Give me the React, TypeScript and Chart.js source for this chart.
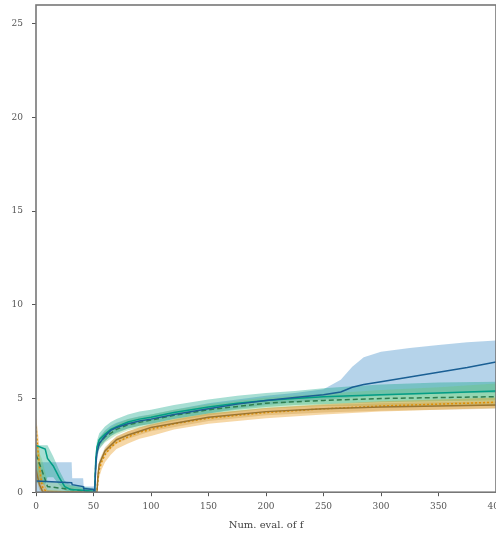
import React, { useEffect, useRef } from "react";
import { Chart, registerables } from "chart.js";

Chart.register(...registerables);

const X_TICK_STEP = 50;
const Y_TICK_STEP = 5;
const X_MAX = 400;
const Y_MAX = 26;
const Y_TICKS = [0, 5, 10, 15, 20, 25];
const X_TITLE = "Num. eval. of f";

// Series 1: blue (solid)
const BLUE_X = [0, 31, 31.5, 41, 41.5, 50, 51, 52, 53, 55, 60, 65, 70, 80, 90, 100, 120, 150, 175, 200, 225, 250, 265, 275, 285, 300, 325, 350, 375, 400];
const BLUE_MEAN = [0.6, 0.5, 0.4, 0.3, 0.2, 0.15, 0, 1.4, 2.1, 2.6, 3.0, 3.3, 3.45, 3.65, 3.8, 3.9, 4.15, 4.45, 4.7, 4.9, 5.05, 5.2, 5.35, 5.6, 5.75, 5.9, 6.15, 6.4, 6.65, 6.95];
const BLUE_HI = [1.6, 1.6, 0.75, 0.75, 0.3, 0.3, 0.4, 1.8, 2.5, 2.9, 3.3, 3.55, 3.7, 3.9, 4.05, 4.15, 4.4, 4.75, 4.95, 5.15, 5.3, 5.5, 6.0, 6.7, 7.2, 7.5, 7.7, 7.85, 8.0, 8.1];
const BLUE_LO = [0, 0, 0, 0, 0, 0, 0, 1.0, 1.8, 2.3, 2.7, 3.0, 3.2, 3.4, 3.55, 3.65, 3.9, 4.2, 4.45, 4.65, 4.8, 4.95, 5.0, 5.05, 5.1, 5.15, 5.2, 5.25, 5.3, 5.3];

// Series 2: teal (solid)
const TEAL_X = [0, 8, 10, 15, 20, 25, 30, 40, 50, 51, 52, 53, 55, 60, 65, 70, 80, 90, 100, 120, 150, 175, 200, 225, 250, 275, 300, 350, 400];
const TEAL_MEAN = [2.5, 2.3, 1.8, 1.4, 0.8, 0.3, 0.15, 0.1, 0.05, 0, 1.8, 2.4, 2.8, 3.1, 3.35, 3.5, 3.75, 3.9, 4.0, 4.25, 4.55, 4.75, 4.9, 5.0, 5.1, 5.15, 5.2, 5.3, 5.4];
const TEAL_HI = [2.5, 2.5, 2.5, 1.9, 1.2, 0.6, 0.4, 0.3, 0.2, 0.2, 2.1, 2.75, 3.15, 3.5, 3.75, 3.9, 4.15, 4.3, 4.4, 4.65, 4.95, 5.15, 5.3, 5.4, 5.55, 5.65, 5.75, 5.85, 5.9];
const TEAL_LO = [0.5, 0.4, 0.8, 0.8, 0.4, 0.1, 0, 0, 0, 0, 1.4, 2.05, 2.45, 2.75, 3.0, 3.15, 3.4, 3.55, 3.65, 3.9, 4.2, 4.4, 4.55, 4.65, 4.7, 4.75, 4.8, 4.85, 4.9];

// Series 3: green (dashed)
const GREEN_X = [0, 5, 10, 50, 51, 52, 53, 55, 60, 70, 80, 100, 120, 150, 200, 250, 300, 350, 400];
const GREEN_MEAN = [2.0, 1.2, 0.3, 0, 0, 1.6, 2.2, 2.6, 2.95, 3.35, 3.6, 3.85, 4.1, 4.4, 4.75, 4.9, 5.0, 5.05, 5.1];
const GREEN_HI = [2.5, 1.8, 0.6, 0.1, 0.1, 1.9, 2.5, 2.9, 3.25, 3.65, 3.9, 4.15, 4.4, 4.7, 5.05, 5.25, 5.45, 5.6, 5.8];
const GREEN_LO = [1.2, 0.6, 0, 0, 0, 1.3, 1.9, 2.3, 2.65, 3.05, 3.3, 3.55, 3.8, 4.1, 4.45, 4.6, 4.6, 4.6, 4.6];

// Series 4: orange (dotted)
const ORANGE_X = [0, 2, 4, 6, 10, 50, 53, 54, 55, 57, 60, 65, 70, 80, 90, 100, 120, 150, 175, 200, 250, 300, 350, 400];
const ORANGE_MEAN = [3.5, 2.0, 0.8, 0.2, 0, 0, 0, 0.8, 1.2, 1.6, 2.0, 2.4, 2.65, 2.95, 3.2, 3.35, 3.65, 3.95, 4.1, 4.25, 4.45, 4.6, 4.7, 4.8];
const ORANGE_HI = [4.1, 3.0, 1.5, 0.6, 0.1, 0, 0, 1.1, 1.5, 1.9, 2.3, 2.7, 2.95, 3.25, 3.45, 3.6, 3.9, 4.2, 4.35, 4.5, 4.7, 4.85, 4.95, 5.05];
const ORANGE_LO = [2.5, 1.0, 0.2, 0, 0, 0, 0, 0.4, 0.8, 1.2, 1.6, 2.0, 2.3, 2.6, 2.85, 3.0, 3.35, 3.65, 3.8, 3.95, 4.15, 4.3, 4.4, 4.5];

// Series 5: brown (solid)
const BROWN_X = [0, 3, 6, 53, 54, 55, 60, 70, 80, 100, 150, 200, 250, 300, 400];
const BROWN_MEAN = [1.2, 0.4, 0, 0, 1.0, 1.5, 2.2, 2.8, 3.05, 3.45, 4.0, 4.3, 4.45, 4.55, 4.65];
const BROWN_HI = [1.6, 0.7, 0.1, 0, 1.2, 1.7, 2.4, 3.0, 3.25, 3.65, 4.2, 4.5, 4.65, 4.75, 4.85];
const BROWN_LO = [0.8, 0.1, 0, 0, 0.8, 1.3, 2.0, 2.6, 2.85, 3.25, 3.8, 4.1, 4.25, 4.35, 4.45];

type Series = {
  x: number[];
  mean: number[];
  hi: number[];
  lo: number[];
  line: string;
  band: string;
  dash: number[];
};

const SERIES: Series[] = [
  { x: ORANGE_X, mean: ORANGE_MEAN, hi: ORANGE_HI, lo: ORANGE_LO, line: "#de8f05", band: "rgba(232,150,20,0.38)", dash: [2, 2] },
  { x: BROWN_X, mean: BROWN_MEAN, hi: BROWN_HI, lo: BROWN_LO, line: "#9a7530", band: "rgba(170,130,50,0.3)", dash: [] },
  { x: GREEN_X, mean: GREEN_MEAN, hi: GREEN_HI, lo: GREEN_LO, line: "#2f7d4f", band: "rgba(110,195,110,0.32)", dash: [5, 3] },
  { x: TEAL_X, mean: TEAL_MEAN, hi: TEAL_HI, lo: TEAL_LO, line: "#029e85", band: "rgba(2,160,130,0.35)", dash: [] },
  { x: BLUE_X, mean: BLUE_MEAN, hi: BLUE_HI, lo: BLUE_LO, line: "#1a5f94", band: "rgba(60,140,200,0.38)", dash: [] },
];

const pts = (xs: number[], ys: number[]) => xs.map((x, i) => ({ x, y: ys[i] }));

const framePlugin = {
  id: "frame",
  afterDatasetsDraw(chart: any) {
    const { ctx, chartArea } = chart;
    ctx.save();
    ctx.strokeStyle = "#777";
    ctx.lineWidth = 1.6;
    ctx.strokeRect(chartArea.left, chartArea.top, chartArea.right - chartArea.left, chartArea.bottom - chartArea.top);
    ctx.restore();
  },
};

export default function App() {
  const ref = useRef<HTMLCanvasElement>(null);
  useEffect(() => {
    document.body.style.margin = "0";
    document.body.style.overflow = "hidden";
    const datasets: any[] = [];
    SERIES.forEach((s, k) => {
      const loIdx = datasets.length;
      datasets.push({
        data: pts(s.x, s.lo),
        borderWidth: 0,
        pointRadius: 0,
        fill: false,
        order: 100 + k,
      });
      datasets.push({
        data: pts(s.x, s.hi),
        borderWidth: 0,
        pointRadius: 0,
        backgroundColor: s.band,
        fill: { target: loIdx },
        order: 100 + k,
      });
    });
    SERIES.forEach((s, k) => {
      datasets.push({
        data: pts(s.x, s.mean),
        borderColor: s.line,
        borderWidth: 1.5,
        borderDash: s.dash,
        pointRadius: 0,
        fill: false,
        order: 50 - k,
      });
    });
    const tickFont = { family: "'DejaVu Serif', serif", size: 9 };
    const chart = new Chart(ref.current!, {
      type: "line",
      data: { datasets },
      plugins: [framePlugin],
      options: {
        animation: false,
        responsive: false,
        layout: { padding: { top: 5, left: 0, right: 0, bottom: 7 } },
        plugins: { legend: { display: false }, tooltip: { enabled: false } },
        scales: {
          x: {
            type: "linear",
            min: 0,
            max: X_MAX,
            ticks: { stepSize: X_TICK_STEP, color: "#555", font: tickFont, padding: 5, maxRotation: 0 },
            grid: { display: true, drawOnChartArea: false, tickLength: 4, color: "#555" },
            border: { display: false },
            title: { display: true, text: X_TITLE, color: "#444", font: { family: "'DejaVu Serif', serif", size: 10 }, padding: { top: 2, bottom: 0 } },
            afterFit: (s: any) => {
              s.paddingRight = 0;
            },
          },
          y: {
            type: "linear",
            min: 0,
            max: Y_MAX,
            afterBuildTicks: (s: any) => {
              s.ticks = Y_TICKS.map((v) => ({ value: v }));
            },
            ticks: { stepSize: Y_TICK_STEP, color: "#555", font: tickFont, padding: 9 },
            grid: { display: true, drawOnChartArea: false, tickLength: 4, color: "#555" },
            border: { display: false },
            afterFit: (s: any) => {
              s.width = 36;
              s.paddingTop = 0;
            },
          },
        },
      },
    } as any);
    return () => chart.destroy();
  }, []);
  return <canvas ref={ref} width={496} height={538} style={{ display: "block" }} />;
}
